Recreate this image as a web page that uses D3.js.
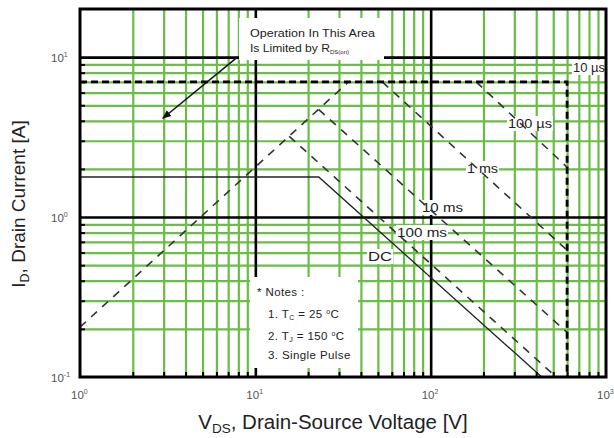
<!DOCTYPE html>
<html>
<head>
<meta charset="utf-8">
<script src="https://cdn.jsdelivr.net/npm/d3@7"></script>
<style>
  html, body { margin: 0; padding: 0; background: #fff; }
  svg { display: block; font-family: "Liberation Sans", Arial, Helvetica, sans-serif; }
</style>
</head>
<body>
<svg id="chart" width="614" height="438"></svg>
<script>
// Safe operating area: drain current vs drain-source voltage (log-log)

// Axis domains and tick values
const xDomain = [1, 1000];
const yDomain = [0.1, 20];
const xMajor = [10, 100];
const yMajor = [1, 10];
const xMinor = [2, 3, 4, 5, 6, 7, 8, 9, 20, 30, 40, 50, 60, 70, 80, 90, 200, 300, 400, 500, 600, 700, 800, 900];
const yMinor = [0.2, 0.3, 0.4, 0.5, 0.6, 0.7, 0.8, 0.9, 2, 3, 4, 5, 6, 7, 8, 9];
const xTickExp = [0, 1, 2, 3];
const yTickExp = [-1, 0, 1];

// Boundary curves: voltages [V] and currents [A]
const rdsV = [1, 34];
const rdsI = [0.205, 7];
const v10us = [1, 600, 600];
const i10us = [7, 7, 0.1];
const v100us = [182, 600];
const i100us = [7, 2.05];
const v1ms = [53, 600];
const i1ms = [7, 0.62];
const v10ms = [23, 600];
const i10ms = [4.7, 0.19];
const v100ms = [15.6, 520];
const i100ms = [3.2, 0.1];
const vDC = [1, 23, 430];
const iDC = [1.78, 1.78, 0.1];

// Arrow pointing into the R_DS(on) limited region
const arrowV = [7.9, 2.97];
const arrowI = [10, 4.15];

const svg = d3.select("#chart");
const W = 614, H = 438;
const pL = 80, pR = 606, pT = 9, pB = 377;

const x = d3.scaleLog().domain(xDomain).range([pL, pR]);
const y = d3.scaleLog().domain(yDomain).range([pB, pT]);

const GREEN = "#6abd45";

svg.append("rect").attr("width", W).attr("height", H).attr("fill", "#fff");

const defs = svg.append("defs");
defs.append("clipPath").attr("id", "plot-clip")
  .append("rect").attr("x", pL).attr("y", pT)
  .attr("width", pR - pL).attr("height", pB - pT);

const plot = svg.append("g").attr("clip-path", "url(#plot-clip)");

function styleGrid(g, color, width) {
  g.select(".domain").remove();
  g.selectAll(".tick line").attr("stroke", color).attr("stroke-width", width);
  g.selectAll(".tick text").remove();
}

// Minor grid (green)
plot.append("g").attr("transform", `translate(0,${pB})`)
  .call(d3.axisBottom(x).tickValues(xMinor).tickSize(-(pB - pT)).tickFormat(""))
  .call(g => styleGrid(g, GREEN, 2.2));
plot.append("g").attr("transform", `translate(${pL},0)`)
  .call(d3.axisLeft(y).tickValues(yMinor).tickSize(-(pR - pL)).tickFormat(""))
  .call(g => styleGrid(g, GREEN, 2.2));

// Major grid (black)
plot.append("g").attr("transform", `translate(0,${pB})`)
  .call(d3.axisBottom(x).tickValues(xMajor).tickSize(-(pB - pT)).tickFormat(""))
  .call(g => styleGrid(g, "#000", 2.6));
plot.append("g").attr("transform", `translate(${pL},0)`)
  .call(d3.axisLeft(y).tickValues(yMajor).tickSize(-(pR - pL)).tickFormat(""))
  .call(g => styleGrid(g, "#000", 2.6));

// White panels for the annotations
plot.append("rect").attr("x", 239).attr("y", 18).attr("width", 145).attr("height", 42).attr("fill", "#fff");
plot.append("rect").attr("x", 250).attr("y", 277).attr("width", 108).attr("height", 91).attr("fill", "#fff");

// Curve label positions (pixel layout) and backgrounds
const labels = [
  { t: "10 \u00b5s", x: 573, y: 72, w: 32 },
  { t: "100 \u00b5s", x: 508, y: 128, w: 44 },
  { t: "1 ms", x: 467, y: 173, w: 31 },
  { t: "10 ms", x: 422, y: 212, w: 41 },
  { t: "100 ms", x: 397, y: 237, w: 50 },
  { t: "DC", x: 368, y: 261, w: 24 }
];
plot.selectAll("rect.lblbg").data(labels).join("rect")
  .attr("class", "lblbg")
  .attr("x", d => d.x - 1).attr("y", d => d.y - 12)
  .attr("width", d => d.w + 2).attr("height", 15)
  .attr("fill", "#fff");

// Inward minor ticks on the left and bottom axes
svg.append("g").attr("transform", `translate(0,${pB})`)
  .call(d3.axisBottom(x).tickValues(xMinor).tickSize(-5).tickFormat(""))
  .call(g => styleGrid(g, "#000", 2));
svg.append("g").attr("transform", `translate(${pL},0)`)
  .call(d3.axisLeft(y).tickValues(yMinor).tickSize(-5).tickFormat(""))
  .call(g => styleGrid(g, "#000", 2));

// Curves
const line = d3.line().x(d => x(d[0])).y(d => y(d[1]));
const zip = (a, b) => a.map((v, i) => [v, b[i]]);

const curves = [
  { v: rdsV, i: rdsI, stroke: "#333", w: 1.6, dash: "8,7" },
  { v: v100us, i: i100us, stroke: "#333", w: 1.6, dash: "8,7" },
  { v: v1ms, i: i1ms, stroke: "#333", w: 1.6, dash: "8,7" },
  { v: v10ms, i: i10ms, stroke: "#333", w: 1.6, dash: "8,7" },
  { v: v100ms, i: i100ms, stroke: "#333", w: 1.6, dash: "8,7" },
  { v: vDC, i: iDC, stroke: "#222", w: 1.3, dash: null },
  { v: v10us, i: i10us, stroke: "#000", w: 2.8, dash: "7,4" }
];
plot.selectAll("path.curve").data(curves).join("path")
  .attr("class", "curve")
  .attr("d", d => line(zip(d.v, d.i)))
  .attr("fill", "none")
  .attr("stroke", d => d.stroke)
  .attr("stroke-width", d => d.w)
  .attr("stroke-dasharray", d => d.dash);

// Curve labels
plot.selectAll("text.lbl").data(labels).join("text")
  .attr("class", "lbl")
  .attr("x", d => d.x).attr("y", d => d.y)
  .attr("font-size", 13).attr("fill", "#222")
  .attr("textLength", d => d.w).attr("lengthAdjust", "spacingAndGlyphs")
  .text(d => d.t);

// Arrow
defs.append("marker").attr("id", "arrowhead")
  .attr("viewBox", "0 0 10 10").attr("refX", 9).attr("refY", 5)
  .attr("markerWidth", 9).attr("markerHeight", 9).attr("orient", "auto")
  .attr("markerUnits", "userSpaceOnUse")
  .append("path").attr("d", "M0,1 L10,5 L0,9 Z").attr("fill", "#111");
plot.append("path")
  .attr("d", line(zip(arrowV, arrowI)))
  .attr("stroke", "#111").attr("stroke-width", 1.5).attr("fill", "none")
  .attr("marker-end", "url(#arrowhead)");

// Annotation text
const ann = plot.append("g").attr("font-size", 11).attr("fill", "#222");
ann.append("text").attr("x", 250).attr("y", 37)
  .attr("textLength", 125).attr("lengthAdjust", "spacingAndGlyphs")
  .text("Operation In This Area");
const ann2 = ann.append("text").attr("x", 250).attr("y", 52);
ann2.append("tspan").attr("textLength", 80).attr("lengthAdjust", "spacingAndGlyphs").text("Is Limited by R");
ann2.append("tspan").attr("font-size", 6).attr("dy", 2).text("DS(on)");

// Notes
const notes = plot.append("g").attr("font-size", 11.5).attr("fill", "#222")
  .attr("letter-spacing", 0.4);
notes.append("text").attr("x", 257).attr("y", 296).text("* Notes :");
const n1 = notes.append("text").attr("x", 268).attr("y", 318);
n1.append("tspan").text("1. T");
n1.append("tspan").attr("font-size", 7).attr("dy", 2).text("C");
n1.append("tspan").attr("dy", -2).text(" = 25 ");
n1.append("tspan").attr("font-size", 7).attr("dy", -4).text("o");
n1.append("tspan").attr("dy", 4).text("C");
const n2 = notes.append("text").attr("x", 268).attr("y", 340);
n2.append("tspan").text("2. T");
n2.append("tspan").attr("font-size", 7).attr("dy", 2).text("J");
n2.append("tspan").attr("dy", -2).text(" = 150 ");
n2.append("tspan").attr("font-size", 7).attr("dy", -4).text("o");
n2.append("tspan").attr("dy", 4).text("C");
notes.append("text").attr("x", 268).attr("y", 359).text("3. Single Pulse");

// Plot border
svg.append("rect").attr("x", pL).attr("y", pT)
  .attr("width", pR - pL).attr("height", pB - pT)
  .attr("fill", "none").attr("stroke", "#000").attr("stroke-width", 3);

// Tick labels (powers of ten)
function pow10Label(sel, e) {
  sel.append("tspan").text("10");
  sel.append("tspan").attr("font-size", 7).attr("dy", -5).text(String(e));
}
xTickExp.forEach(e => {
  const t = svg.append("text").attr("x", x(Math.pow(10, e)) - 9).attr("y", 399)
    .attr("font-size", 11.5).attr("fill", "#555");
  pow10Label(t, e);
});
yTickExp.forEach(e => {
  const t = svg.append("text").attr("x", 51).attr("y", y(Math.pow(10, e)) + 5)
    .attr("font-size", 11.5).attr("fill", "#555");
  pow10Label(t, e);
});

// Axis titles
const xt = svg.append("text").attr("x", 333).attr("y", 429)
  .attr("text-anchor", "middle").attr("font-size", 20.5).attr("fill", "#222");
xt.append("tspan").text("V");
xt.append("tspan").attr("font-size", 13.5).attr("dy", 4).text("DS");
xt.append("tspan").attr("dy", -4).text(", Drain-Source Voltage [V]");

const yt = svg.append("text").attr("transform", `translate(25,204) rotate(-90)`)
  .attr("text-anchor", "middle").attr("font-size", 19).attr("fill", "#222");
yt.append("tspan").text("I");
yt.append("tspan").attr("font-size", 12.5).attr("dy", 4).text("D");
yt.append("tspan").attr("dy", -4).text(", Drain Current [A]");
</script>
</body>
</html>
